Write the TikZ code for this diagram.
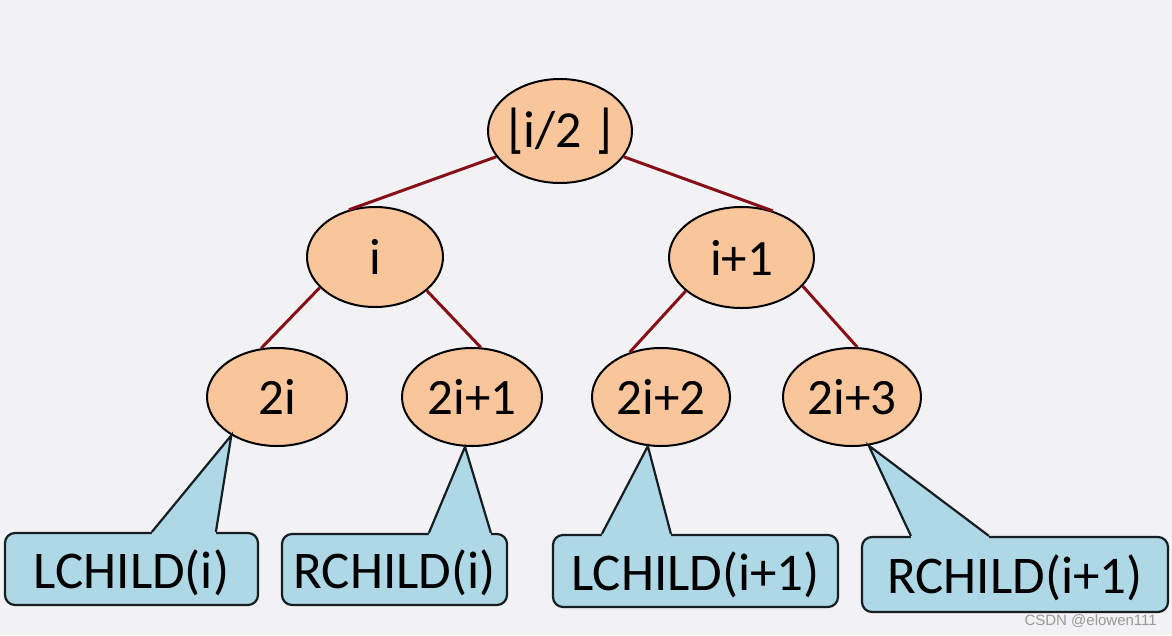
\documentclass[tikz,border=0pt]{standalone}
\usepackage{fontspec}
\setmainfont{Carlito}
\newfontfamily\wmfont{Liberation Sans}
\newfontfamily\brfont{DejaVu Sans}
\usetikzlibrary{shapes.geometric,calc}
\definecolor{bgcol}{RGB}{242,242,244}
\definecolor{nodefill}{RGB}{249,197,155}
\definecolor{edgecol}{RGB}{135,16,24}
\definecolor{callfill}{RGB}{174,216,229}
\definecolor{callline}{RGB}{22,30,36}
\newcommand\mycallout[4]{%
  \fill[callfill] ($(#1.north west)+(#2,4)$) -- ($(#1.north west)+(#2,0)$) -- (#4)
     -- ($(#1.north west)+(#3,0)$) -- ($(#1.north west)+(#3,4)$) -- cycle;
  \draw[callline,line width=2.2pt,line join=miter] ($(#1.north west)+(#2,0)$) -- (#4) -- ($(#1.north west)+(#3,0)$);
}
\newcommand\brk[1]{{\brfont\fontsize{52}{52}\selectfont\scalebox{0.8}[1]{#1}}}
\begin{document}
\begin{tikzpicture}[x=1pt,y=-1pt,
  tnode/.style={ellipse,draw=black,line width=2pt,fill=nodefill,inner sep=0pt,
    font=\fontsize{51}{51}\selectfont},
  tedge/.style={draw=edgecol,line width=3pt},
  cbox/.style={rectangle,rounded corners=10pt,draw=callline,line width=2.2pt,fill=callfill,
    inner sep=0pt,text depth=0pt,font=\fontsize{53}{53}\selectfont},
]
\fill[bgcol] (0,0) rectangle (1172,635);
\useasboundingbox (0,0) rectangle (1172,635);

% tree nodes
\node[tnode,inner xsep=-14pt,inner ysep=-6pt,minimum width=144pt,minimum height=104pt,font=\fontsize{52}{52}\selectfont] (root) at (560,131)
  {\brk{⌊}\hspace{-1pt}i/2\hspace{14pt}\brk{⌋}};
\node[tnode,minimum width=136pt,minimum height=100pt] (ni) at (375,257) {i};
\node[tnode,minimum width=145pt,minimum height=101pt] (nip) at (741.5,257.5) {i+1};
\node[tnode,minimum width=140pt,minimum height=98pt] (n2i) at (277,397) {2i};
\node[tnode,minimum width=140pt,minimum height=98pt] (n2ia) at (472,397) {2i+1};
\node[tnode,minimum width=138pt,minimum height=98pt] (n2ib) at (661,397) {2i+2};
\node[tnode,minimum width=138pt,minimum height=98pt] (n2ic) at (852,397) {2i+3};

\draw[tedge] (root.202) -- (ni.119);
\draw[tedge] (root.338) -- (nip.56);
\draw[tedge] (ni.209) -- (n2i.108);
\draw[tedge] (ni.327) -- (n2ia.80);
\draw[tedge] (nip.211) -- (n2ib.125);
\draw[tedge] (nip.335) -- (n2ic.84);

% callout boxes
\node[cbox,minimum width=253pt,minimum height=72pt] (lci) at (131.5,569) {LCHILD(i)};
\node[cbox,minimum width=225pt,minimum height=71pt] (rci) at (394.5,569.5) {RCHILD(i)};
\node[cbox,minimum width=285pt,minimum height=72pt] (lcip) at (695.5,571) {LCHILD(i+1)};
\node[cbox,minimum width=306pt,minimum height=75pt] (rcip) at (1015,574.5) {RCHILD(i+1)};

\mycallout{lci}{148}{212}{n2i.220}
\mycallout{rci}{148}{210}{n2ia.262}
\mycallout{lcip}{50}{119}{n2ib.255}
\mycallout{rcip}{50}{128}{n2ic.289}

\node[font=\wmfont\fontsize{15}{15}\selectfont,text=black!40,anchor=east,inner sep=0pt] (wm) at (1157,621) {CSDN @elowen111};
\end{tikzpicture}
\end{document}
